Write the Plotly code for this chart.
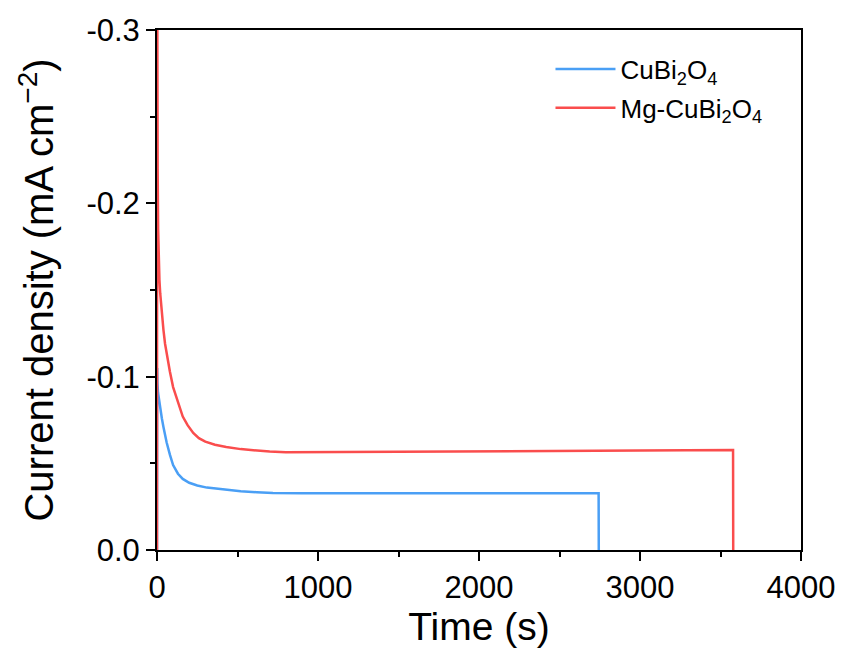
import plotly.graph_objects as go

# -------------------------------------------------------
# Data
# -------------------------------------------------------
t_cubi = [0, 1, 3, 6, 10, 20, 30, 40, 50, 60, 80, 100, 130, 160, 200, 250,
          310, 420, 520, 620, 720, 900, 1130, 1500, 2000, 2400, 2743, 2744]
j_cubi = [0.0, -0.105, -0.096, -0.091, -0.088, -0.082, -0.076, -0.071, -0.066,
          -0.062, -0.055, -0.049, -0.044, -0.041, -0.0388, -0.0372, -0.0360,
          -0.0347, -0.0339, -0.0333, -0.0329, -0.0327, -0.0327, -0.0326,
          -0.0325, -0.0326, -0.0327, 0.0]

t_mg = [0, 1, 2, 4, 7, 10, 15, 20, 30, 40, 50, 60, 80, 100, 130, 160, 190,
        225, 260, 300, 360, 430, 520, 600, 700, 800, 1100, 1500, 2000, 2500,
        3000, 3578, 3579]
j_mg = [0.0, -0.35, -0.30, -0.22, -0.185, -0.168, -0.156, -0.148, -0.136,
        -0.127, -0.119, -0.113, -0.103, -0.094, -0.085, -0.077, -0.072,
        -0.0675, -0.0645, -0.0625, -0.0607, -0.0594, -0.0582, -0.0574,
        -0.0568, -0.0564, -0.0565, -0.0566, -0.0567, -0.0570, -0.0574,
        -0.0577, 0.0]

x_ticks = [0, 1000, 2000, 3000, 4000]
y_ticks = [0.0, -0.1, -0.2, -0.3]
y_ticklabels = ["0.0", "-0.1", "-0.2", "-0.3"]

FONT = "Liberation Sans, Arial, sans-serif"

fig = go.Figure()

fig.add_trace(go.Scatter(
    x=t_cubi, y=j_cubi, mode="lines",
    line=dict(color="#4a9ff5", width=2.5),
    name="CuBi<sub>2</sub>O<sub>4</sub>",
    legendgroup="a",
))
fig.add_trace(go.Scatter(
    x=t_mg, y=j_mg, mode="lines",
    line=dict(color="#fa4d4d", width=2.5),
    name="Mg-CuBi<sub>2</sub>O<sub>4</sub>",
    legendgroup="b",
))

fig.update_layout(
    width=847, height=653,
    plot_bgcolor="white", paper_bgcolor="white",
    margin=dict(l=157, r=44, t=30, b=103),
    font=dict(family=FONT, color="black"),
    showlegend=True,
    legend=dict(
        x=0.611, y=0.97, xanchor="left", yanchor="top",
        font=dict(size=26, family=FONT),
        bgcolor="rgba(0,0,0,0)",
        itemwidth=60,
        tracegroupgap=2,
    ),
)

fig.update_xaxes(
    range=[0, 4000],
    tickvals=x_ticks,
    tickfont=dict(size=31),
    title=dict(text="Time (s)", font=dict(size=39), standoff=6),
    showgrid=False, zeroline=False,
    showline=True, linecolor="black", linewidth=2, mirror=True,
    ticks="outside", ticklen=9, tickwidth=2, tickcolor="black",
    minor=dict(ticks="outside", dtick=500, ticklen=5, tickwidth=2,
               tickcolor="black", showgrid=False),
)

fig.update_yaxes(
    range=[0, -0.3],
    tickvals=y_ticks, ticktext=y_ticklabels,
    tickfont=dict(size=31),
    title=dict(text="Current density (mA cm<sup>\u22122</sup>)",
               font=dict(size=40), standoff=20),
    showgrid=False, zeroline=False,
    showline=True, linecolor="black", linewidth=2, mirror=True,
    ticks="outside", ticklen=9, tickwidth=2, tickcolor="black",
    minor=dict(ticks="outside", tickvals=[-0.05, -0.15, -0.25], ticklen=5,
               tickwidth=2, tickcolor="black", showgrid=False),
)

# page body has a default 8px margin; drop it so the figure sits at 0,0
fig.write_html("out.html", config={"displayModeBar": False},
               post_script="document.body.style.margin='0';")
